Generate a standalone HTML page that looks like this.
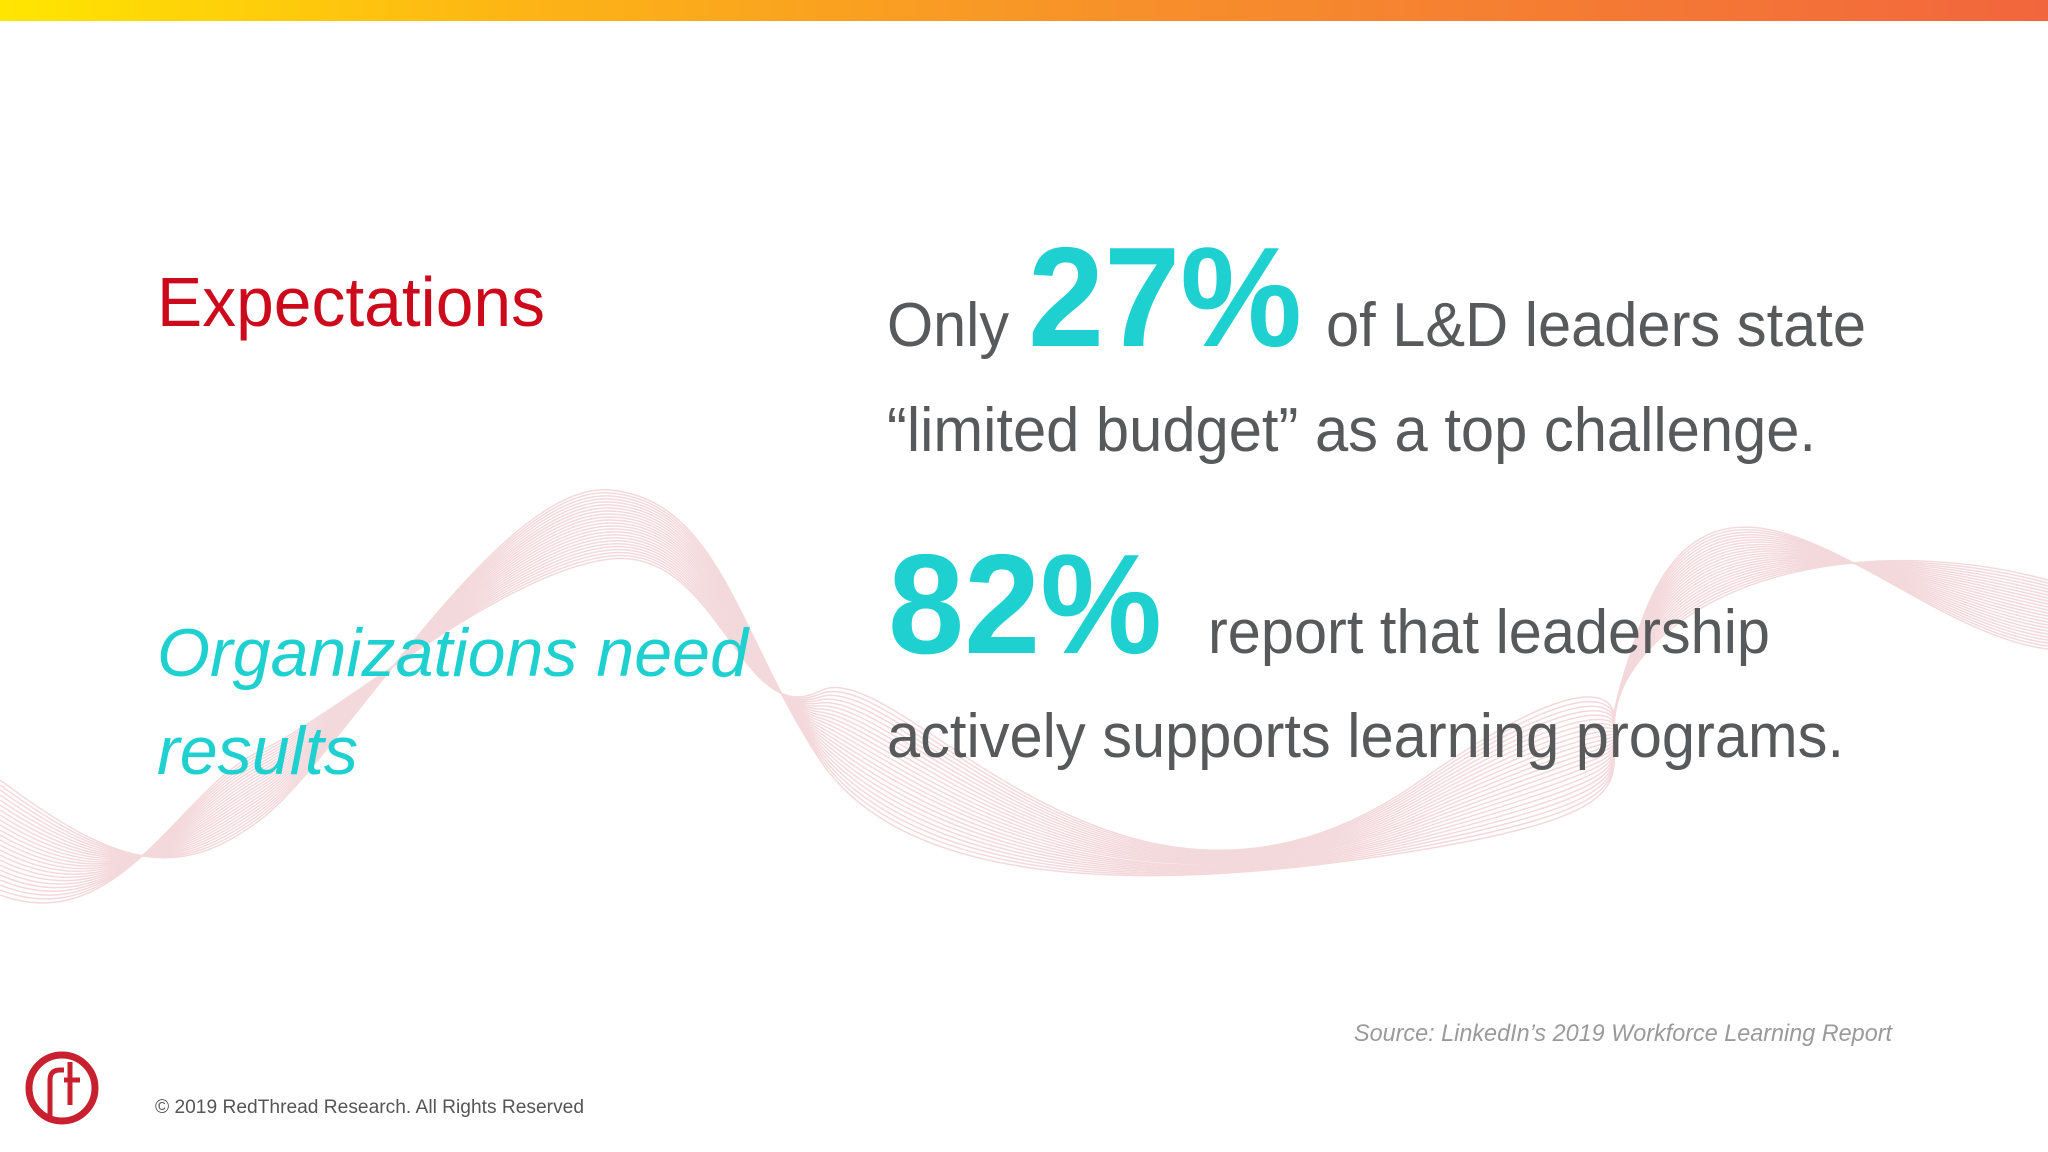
<!DOCTYPE html>
<html><head><meta charset="utf-8"><style>
html,body{margin:0;padding:0;background:#fff}
svg{display:block}
text{font-family:"Liberation Sans",sans-serif}
</style></head><body>
<svg width="2048" height="1152" viewBox="0 0 2048 1152">
<defs>
<linearGradient id="tb" x1="0" x2="1" y1="0" y2="0">
<stop offset="0" stop-color="#ffe600"/><stop offset="0.25" stop-color="#fdb515"/><stop offset="0.55" stop-color="#f7902a"/><stop offset="1" stop-color="#f2663d"/>
</linearGradient>
</defs>
<rect x="0" y="0" width="2048" height="21" fill="url(#tb)"/>
<g id="wave" fill="none" stroke="#f0cdd1" stroke-width="1.5" opacity="0.75"></g>

<text x="157" y="326" font-size="70" fill="#cc0a1c" textLength="388" lengthAdjust="spacingAndGlyphs">Expectations</text>
<text x="157" y="676" font-size="68" font-style="italic" fill="#1fd0d0" textLength="591" lengthAdjust="spacingAndGlyphs">Organizations need</text>
<text x="157" y="774" font-size="68" font-style="italic" fill="#1fd0d0" textLength="201" lengthAdjust="spacingAndGlyphs">results</text>

<text x="887" y="346" font-size="62" fill="#58595b" textLength="122" lengthAdjust="spacingAndGlyphs">Only</text>
<text x="1028" y="346" font-size="142" font-weight="bold" fill="#1fd0d0" textLength="274" lengthAdjust="spacingAndGlyphs">27%</text>
<text x="1326" y="346" font-size="62" fill="#58595b" textLength="540" lengthAdjust="spacingAndGlyphs">of L&amp;D leaders state</text>
<text x="887" y="451" font-size="62" fill="#58595b" textLength="929" lengthAdjust="spacingAndGlyphs">“limited budget” as a top challenge.</text>

<text x="888" y="653" font-size="142" font-weight="bold" fill="#1fd0d0" textLength="274" lengthAdjust="spacingAndGlyphs">82%</text>
<text x="1208" y="653" font-size="62" fill="#58595b" textLength="562" lengthAdjust="spacingAndGlyphs">report that leadership</text>
<text x="887" y="757" font-size="62" fill="#58595b" textLength="957" lengthAdjust="spacingAndGlyphs">actively supports learning programs.</text>

<text x="1354" y="1041" font-size="24" font-style="italic" fill="#9a9a9a" textLength="538" lengthAdjust="spacingAndGlyphs">Source: LinkedIn’s 2019 Workforce Learning Report</text>
<text x="155" y="1113" font-size="19" fill="#555" textLength="429" lengthAdjust="spacingAndGlyphs">© 2019 RedThread Research. All Rights Reserved</text>

<g>
<circle cx="62" cy="1088" r="33" fill="none" stroke="#c8202e" stroke-width="7"/>
<path d="M50 1118 V1080 Q50 1070 60 1070 H64" fill="none" stroke="#c8202e" stroke-width="5"/>
<path d="M70 1062 V1105 M64 1080 H80" fill="none" stroke="#c8202e" stroke-width="5"/>
</g>
</svg>
<script>
var g=document.getElementById('wave');
var NS='http://www.w3.org/2000/svg';
for(var i=0;i<24;i++){
  var d=i*5, a=i*3, b=i*4, c=i*1.5;
  var p=document.createElementNS(NS,'path');
  
  
  p.setAttribute('d','M0 '+(780+d)+' C 120 '+(870+a)+' 180 '+(880-b)+' 260 '+(820-a)+' S 500 '+(480+b)+' 610 '+(490+a)+' S 740 '+(640+b)+' 820 '+(760-a)+' S 1120 '+(900+b)+' 1420 '+(850-a)+' S 1560 '+(760+b)+' 1640 '+(660-c)+' S 1900 '+(540+b)+' 2048 '+(580+a));
  g.appendChild(p);
}
</script>
</body></html>
